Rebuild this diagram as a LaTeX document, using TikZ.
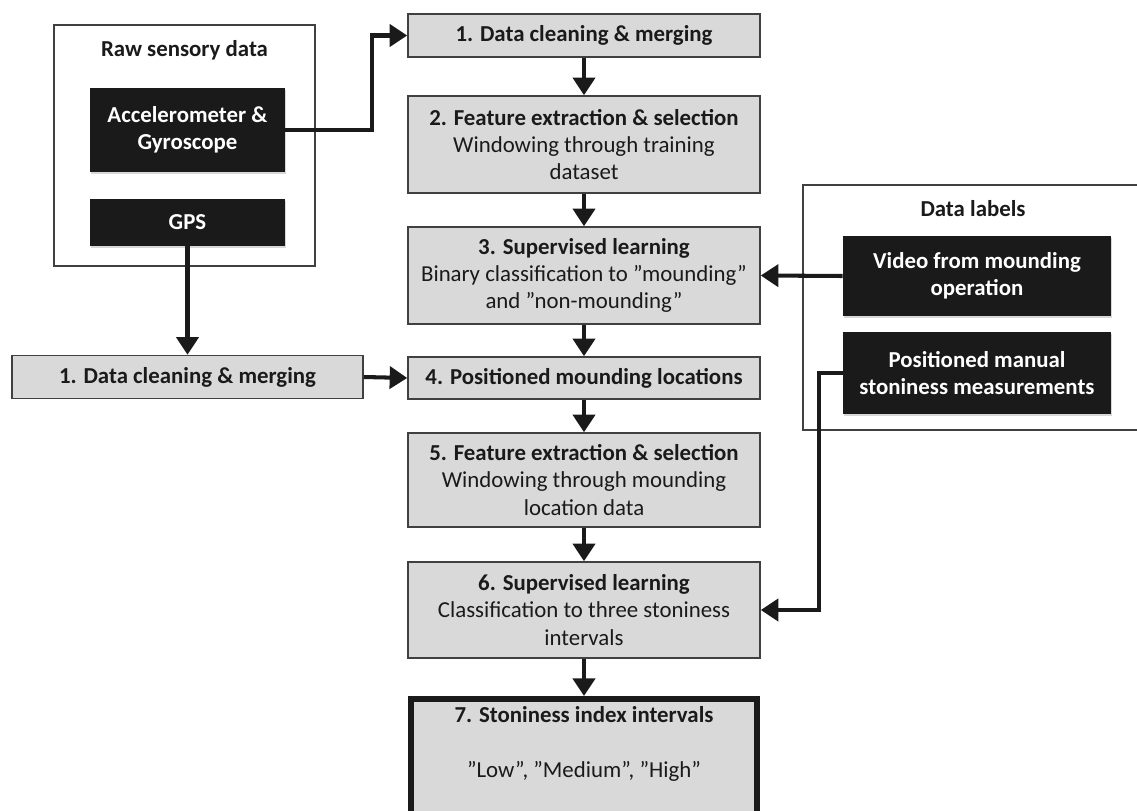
\documentclass[tikz,border=0pt]{standalone}
\usepackage{fontspec}
\setmainfont{Carlito}
\usepackage{tikz}
\usetikzlibrary{arrows.meta,shadows}
\definecolor{boxgray}{HTML}{D9D9D9}
\definecolor{linegray}{HTML}{404040}
\definecolor{nearblack}{HTML}{1A1A1A}
\tikzstyle{procbox}=[rectangle, draw=linegray, line width=0.9pt, fill=boxgray, text=nearblack, align=center, minimum width=7.04cm, inner sep=2pt, font=\fontsize{13}{15.6}\selectfont]
\tikzstyle{srcbox}=[rectangle, fill=nearblack, text=white, align=center, minimum width=3.9cm, inner sep=2pt, font=\fontsize{13}{15.4}\selectfont\bfseries, drop shadow={shadow xshift=0.8pt, shadow yshift=-1.4pt, opacity=0.3}]
\tikzstyle{groupbox}=[rectangle, draw=linegray, line width=0.8pt, fill=white]
\tikzstyle{grouptitle}=[font=\fontsize{13}{15.6}\selectfont\bfseries, text=nearblack]
\tikzstyle{arr}=[draw=nearblack, line width=2.3pt, -{Triangle[width=12.5pt,length=10pt]}]
\newcommand{\procbox}{\node[procbox]}
\newcommand{\srcbox}{\node[srcbox]}

\begin{document}
\begin{tikzpicture}[x=0.02cm, y=-0.02cm]
\useasboundingbox (0,0) rectangle (1137,811);
\clip (0,0) rectangle (1137,811);

% groups
\node[groupbox, minimum width=5.22cm, minimum height=4.82cm] (raw) at (184.5,145.5) {};
\node[grouptitle] (rawtitle) at (184.5,50) {Raw sensory data};
\node[groupbox, minimum width=6.8cm, minimum height=4.9cm] (labels) at (973,307.5) {};
\node[grouptitle] (labelstitle) at (973,209) {Data labels};

% sources
\srcbox[minimum height=1.68cm] (accel) at (187.5,130) {Accelerometer \&\\Gyroscope};
\srcbox[minimum height=0.94cm] (gps) at (187.5,222.5) {GPS};
\srcbox[minimum width=5.36cm, minimum height=1.6cm] (video) at (977,276) {Video from mounding\\operation};
\srcbox[minimum width=5.36cm, minimum height=1.64cm] (pos) at (977,373) {Positioned manual\\stoniness measurements};

% steps
\procbox[minimum height=0.86cm] (d1) at (584,35.5) {\textbf{1. Data cleaning \& merging}};
\procbox[minimum height=1.94cm] (f2) at (584,144.5) {\textbf{2. Feature extraction \& selection}\\Windowing through training\\dataset};
\procbox[minimum height=1.94cm] (s3) at (584,275.5) {\textbf{3. Supervised learning}\\Binary classification to ”mounding”\\and ”non-mounding”};
\procbox[minimum width=7.02cm, minimum height=0.86cm] (dcl) at (187.5,377) {\textbf{1. Data cleaning \& merging}};
\procbox[minimum height=0.84cm] (p4) at (584,378) {\textbf{4. Positioned mounding locations}};
\procbox[minimum height=1.88cm] (f5) at (584,480) {\textbf{5. Feature extraction \& selection}\\Windowing through mounding\\location data};
\procbox[minimum height=1.92cm] (s6) at (584,610) {\textbf{6. Supervised learning}\\Classification to three stoniness\\intervals};
\procbox[minimum width=6.94cm, line width=3.4pt, draw=nearblack, anchor=north, inner ysep=4pt] (i7) at (584,696) {\textbf{7. Stoniness index intervals}\\[16pt]”Low”, ”Medium”, ”High”\\[40pt]\mbox{}};

% connectors
\draw[arr] (accel.east) -- ++(87,0) |- (d1.west);
\draw[arr] (d1) -- (f2);
\draw[arr] (f2) -- (s3);
\draw[arr] (video.west) -- (s3.east);
\draw[arr] (s3) -- (p4);
\draw[arr] (gps.south) -- (dcl.north);
\draw[arr] (dcl.east) -- (p4.west);
\draw[arr] (p4) -- (f5);
\draw[arr] (f5) -- (s6);
\draw[arr] (pos.west) -- ++(-24,0) |- (s6.east);
\draw[arr] (s6) -- (i7);
\end{tikzpicture}
\end{document}
